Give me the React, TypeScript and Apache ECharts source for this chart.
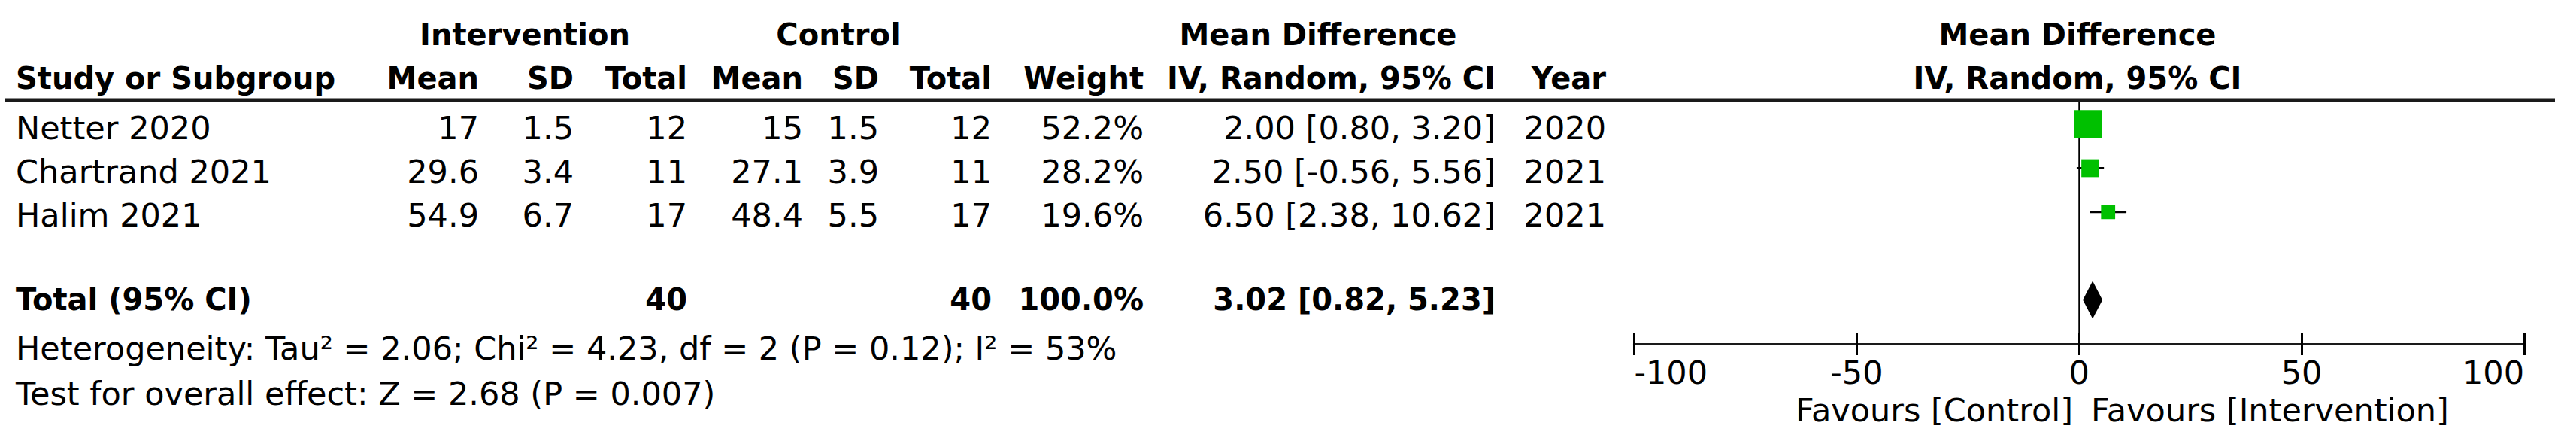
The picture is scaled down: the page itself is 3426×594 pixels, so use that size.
import React, { useEffect, useRef } from 'react';
import * as echarts from 'echarts';

// ---------- data ----------
const studies = ['Netter 2020', 'Chartrand 2021', 'Halim 2021'];
const intMean = [17, 29.6, 54.9];
const intSD = [1.5, 3.4, 6.7];
const intN = [12, 11, 17];
const ctrlMean = [15, 27.1, 48.4];
const ctrlSD = [1.5, 3.9, 5.5];
const ctrlN = [12, 11, 17];
const weights = [52.2, 28.2, 19.6];
const meanDiff = [2.0, 2.5, 6.5];
const ciLow = [0.8, -0.56, 2.38];
const ciHigh = [3.2, 5.56, 10.62];
const years = [2020, 2021, 2021];

const totalLabel = 'Total (95% CI)';
const intTotal = 40;
const ctrlTotal = 40;
const totalWeight = 100.0;
const pooledMD = 3.02;
const pooledLow = 0.82;
const pooledHigh = 5.23;
const totalRowIndex = 4;

const heterogeneityText = 'Heterogeneity: Tau\u00B2 = 2.06; Chi\u00B2 = 4.23, df = 2 (P = 0.12); I\u00B2 = 53%';
const overallText = 'Test for overall effect: Z = 2.68 (P = 0.007)';
const favoursLeft = 'Favours [Control]';
const favoursRight = 'Favours [Intervention]';

const groupHeaders = ['Intervention', 'Control', 'Mean Difference'];
const columnHeaders = ['Mean', 'SD', 'Total', 'Mean', 'SD', 'Total', 'Weight', 'IV, Random, 95% CI', 'Year'];
const plotHeaders = ['Mean Difference', 'IV, Random, 95% CI'];

const xMin = -100;
const xMax = 100;
const xInterval = 50;

// ---------- layout ----------
const FONT = 'DejaVu Sans';
const REG = 43;
const BOLD = 40;
const colX = [637, 763, 914, 1068, 1169, 1319, 1521, 1989, 2136];
const groupX = [698, 1115, 1753];
const studyX = 21;
const head1Y = 46;
const head2Y = 104;
const rowY0 = 170;
const rowStep = 58;
const totalY = 398;
const hetY = 463;
const overallY = 523;
const favY = 545;
const gridTop = 133;
const gridBottomY = 457;
const sepX1 = 7;
const sepX2 = 3398;
const PAGE_W = 3426;
const PAGE_H = 594;

function txt(text: string, x: number, y: number, align: string, bold: boolean) {
  return {
    type: 'text',
    x,
    y,
    silent: true,
    style: {
      text,
      fill: '#000',
      fontFamily: FONT,
      fontSize: bold ? BOLD : REG,
      fontWeight: bold ? 'bold' : 'normal',
      align,
      verticalAlign: 'middle',
      textAlign: align,
      textVerticalAlign: 'middle',
    },
  };
}

export default function App() {
  const ref = useRef<HTMLDivElement>(null);

  useEffect(() => {
    document.body.style.margin = '0';
    if (!ref.current) return;
    const chart = echarts.init(ref.current, undefined, { renderer: 'svg' });

    const graphics: any[] = [];
    // separator line under the headers
    graphics.push({
      type: 'rect',
      z: 100,
      silent: true,
      shape: { x: sepX1, y: gridTop - 2.5, width: sepX2 - sepX1, height: 5 },
      style: { fill: '#1a1a1a' },
    });
    // group headers
    graphics.push(txt(groupHeaders[0], groupX[0], head1Y, 'center', true));
    graphics.push(txt(groupHeaders[1], groupX[1], head1Y, 'center', true));
    graphics.push(txt(groupHeaders[2], groupX[2], head1Y, 'center', true));
    // column headers
    graphics.push(txt('Study or Subgroup', studyX, head2Y, 'left', true));
    columnHeaders.forEach((h, j) => graphics.push(txt(h, colX[j], head2Y, 'right', true)));
    // plot headers
    graphics.push(txt(plotHeaders[0], 2763, head1Y, 'center', true));
    graphics.push(txt(plotHeaders[1], 2763, head2Y, 'center', true));
    // study rows
    studies.forEach((s, i) => {
      const y = rowY0 + i * rowStep;
      const cells = [
        String(intMean[i]),
        String(intSD[i]),
        String(intN[i]),
        String(ctrlMean[i]),
        String(ctrlSD[i]),
        String(ctrlN[i]),
        weights[i].toFixed(1) + '%',
        `${meanDiff[i].toFixed(2)} [${ciLow[i].toFixed(2)}, ${ciHigh[i].toFixed(2)}]`,
        String(years[i]),
      ];
      graphics.push(txt(s, studyX, y, 'left', false));
      cells.forEach((c, j) => graphics.push(txt(c, colX[j], y, 'right', false)));
    });
    // total row
    graphics.push(txt(totalLabel, studyX, totalY, 'left', true));
    graphics.push(txt(String(intTotal), colX[2], totalY, 'right', true));
    graphics.push(txt(String(ctrlTotal), colX[5], totalY, 'right', true));
    graphics.push(txt(totalWeight.toFixed(1) + '%', colX[6], totalY, 'right', true));
    graphics.push(
      txt(`${pooledMD.toFixed(2)} [${pooledLow.toFixed(2)}, ${pooledHigh.toFixed(2)}]`, colX[7], totalY, 'right', true)
    );
    graphics.push(txt(heterogeneityText, studyX, hetY, 'left', false));
    graphics.push(txt(overallText, studyX, overallY, 'left', false));
    graphics.push(txt(favoursLeft, 2757, favY, 'right', false));
    graphics.push(txt(favoursRight, 2781, favY, 'left', false));

    const option: any = {
      animation: false,
      backgroundColor: '#fff',
      grid: { left: 2173.5, right: 69, top: gridTop, bottom: PAGE_H - gridBottomY, containLabel: false },
      xAxis: [
        {
          type: 'value',
          min: xMin,
          max: xMax,
          interval: xInterval,
          position: 'bottom',
          axisLine: { show: true, onZero: false, lineStyle: { color: '#1a1a1a', width: 3 } },
          axisTick: { show: true, inside: false, length: 15, lineStyle: { color: '#000', width: 3 } },
          axisLabel: {
            show: true,
            margin: 16,
            color: '#000',
            fontFamily: FONT,
            fontSize: REG,
            alignMinLabel: 'left',
            alignMaxLabel: 'right',
          },
          splitLine: { show: false },
        },
        {
          // upper half of the ticks: a top axis moved down onto the bottom axis line
          type: 'value',
          min: xMin,
          max: xMax,
          interval: xInterval,
          position: 'top',
          offset: -(gridBottomY - gridTop),
          axisLine: { show: false, onZero: false },
          axisTick: { show: true, inside: false, length: 14, lineStyle: { color: '#000', width: 3 } },
          axisLabel: { show: false },
          splitLine: { show: false },
        },
      ],
      yAxis: { type: 'value', inverse: true, min: -0.55, max: 5, show: false },
      series: [
        {
          type: 'custom',
          name: 'CI',
          encode: { x: 0, y: 1 },
          data: studies.map((_, i) => [meanDiff[i], i, ciLow[i], ciHigh[i]]),
          renderItem: (params: any, api: any) => {
            const y = api.value(1);
            const p1 = api.coord([api.value(2), y]);
            const p2 = api.coord([api.value(3), y]);
            return {
              type: 'line',
              shape: { x1: p1[0], y1: p1[1], x2: p2[0], y2: p2[1] },
              style: { stroke: '#000', lineWidth: 3 },
            };
          },
          z: 2,
        },
        {
          type: 'scatter',
          name: 'Studies',
          symbol: 'rect',
          symbolSize: (v: number[]) => 7.4 + 0.58 * v[2],
          itemStyle: { color: '#00c000', opacity: 1 },
          data: studies.map((_, i) => [meanDiff[i], i, weights[i]]),
          z: 3,
          markLine: {
            silent: true,
            symbol: ['none', 'none'],
            label: { show: false },
            lineStyle: { color: '#000', width: 2.5, type: 'solid' },
            data: [{ xAxis: 0 }],
            z: 1,
          },
        },
        {
          type: 'custom',
          name: 'Total',
          encode: { x: 0, y: 1 },
          data: [[pooledMD, totalRowIndex, pooledLow, pooledHigh]],
          renderItem: (params: any, api: any) => {
            const y = api.value(1);
            const c = api.coord([api.value(0), y]);
            const l = api.coord([api.value(2), y]);
            const r = api.coord([api.value(3), y]);
            return {
              type: 'polygon',
              shape: { points: [[l[0], l[1]], [c[0], c[1] - 25], [r[0], r[1]], [c[0], c[1] + 25]] },
              style: { fill: '#000' },
            };
          },
          z: 4,
        },
      ],
      graphic: graphics,
    };

    chart.setOption(option);
    return () => chart.dispose();
  }, []);

  return <div ref={ref} style={{ width: PAGE_W, height: PAGE_H }} />;
}
